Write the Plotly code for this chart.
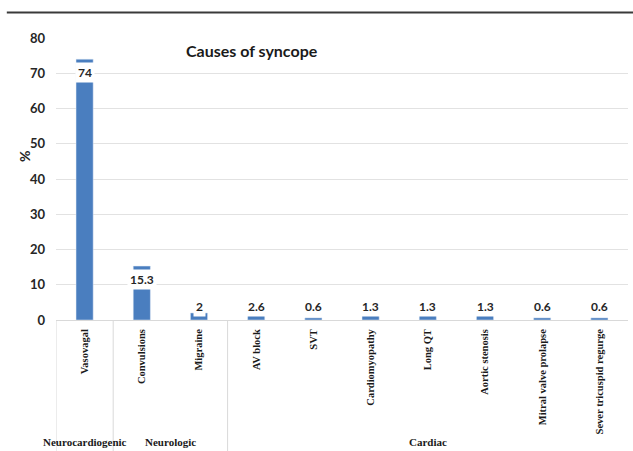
import plotly.graph_objects as go

categories = ["Vasovagal", "Convulsions", "Migraine", "AV block", "SVT",
              "Cardiomyopathy", "Long QT", "Aortic stenosis",
              "Mitral valve prolapse", "Sever tricuspid regurge"]
values = [74, 15.3, 2, 2.6, 0.6, 1.3, 1.3, 1.3, 0.6, 0.6]
value_labels = ["74", "15.3", "2", "2.6", "0.6", "1.3", "1.3", "1.3", "0.6", "0.6"]
groups = ["Neurocardiogenic", "Neurologic", "Cardiac"]
group_spans = [(0, 0), (1, 2), (3, 9)]
y_ticks = [0, 10, 20, 30, 40, 50, 60, 70, 80]

BLUE = "#4a7ebf"
GRID = "#e2e2e2"
SERIF = "Liberation Serif"
SANS = "Lato"

fig = go.Figure()
fig.add_trace(go.Bar(x=list(range(len(categories))), y=values, marker_color=BLUE,
                     width=0.3, hoverinfo="skip"))

annotations = []
for i, (v, lab) in enumerate(zip(values, value_labels)):
    yc = max(v - 3.7, 3.7)
    annotations.append(dict(x=i, y=yc, xref="x", yref="y", text=f"<b>{lab}</b>",
                            showarrow=False, bgcolor="white", borderpad=2,
                            font=dict(family=SANS, size=12, color="#262626"),
                            yanchor="middle"))

for g, (a, b) in zip(groups, group_spans):
    annotations.append(dict(x=(a + b) / 2, y=-0.433, xref="x", yref="paper",
                            text=f"<b>{g}</b>", showarrow=False,
                            font=dict(family=SERIF, size=11, color="#1a1a1a"),
                            yanchor="middle"))

annotations.append(dict(x=0.343, y=0.957, xref="paper", yref="paper",
                        text="<b>Causes of syncope</b>", showarrow=False,
                        font=dict(family=SANS, size=16, color="#1a1a1a"),
                        xanchor="center", yanchor="middle"))

annotations.append(dict(x=-0.056, y=46.5, xref="paper", yref="y",
                        text="<b>%</b>", showarrow=False, textangle=-90,
                        font=dict(family=SANS, size=14, color="#262626"),
                        xanchor="center", yanchor="middle"))

shapes = []
for a, b in group_spans:
    shapes.append(dict(type="line", xref="x", yref="paper", x0=a - 0.5, x1=a - 0.5,
                       y0=0, y1=-0.47, line=dict(color="#d9d9d9", width=1)))
shapes.append(dict(type="line", xref="paper", yref="paper", x0=-0.086, x1=1.02,
                   y0=1.09, y1=1.09, line=dict(color="#3a3a3a", width=2)))

fig.update_layout(
    width=633, height=451,
    margin=dict(l=56, r=5, t=38, b=131),
    paper_bgcolor="white", plot_bgcolor="white",
    showlegend=False,
    annotations=annotations,
    shapes=shapes,
    xaxis=dict(tickmode="array", tickvals=list(range(len(categories))),
               ticktext=[f"<b>{c}</b>" for c in categories],
               tickangle=-90, range=[-0.5, 9.5], showgrid=False,
               showline=True, linecolor="#d9d9d9", linewidth=1,
               ticks="", ticklabelstandoff=4,
               tickfont=dict(family=SERIF, size=10.5, color="#1a1a1a")),
    yaxis=dict(range=[0, 80], tickvals=y_ticks, showgrid=True, gridcolor=GRID,
               zeroline=False, showline=False, ticks="", ticklabelstandoff=10,
               tickfont=dict(family=SANS, size=13, color="#262626"),
               ticktext=[f"<b>{t}</b>" for t in y_ticks], tickmode="array"),
)

fig.write_html("out.html")
